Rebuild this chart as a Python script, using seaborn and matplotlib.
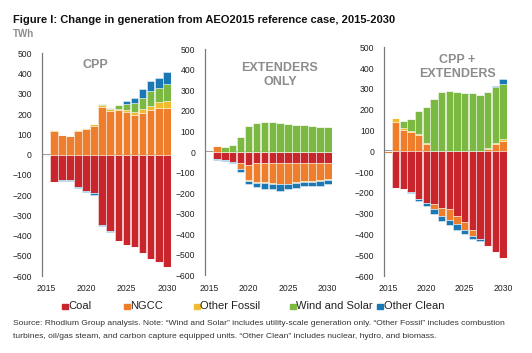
import numpy as np
import pandas as pd
import matplotlib
matplotlib.use('Agg')
import matplotlib.pyplot as plt
import seaborn as sns
from matplotlib.patches import Rectangle

sns.set_style('white')
plt.rcParams['font.family'] = ['Liberation Sans', 'DejaVu Sans']

# data: change in generation vs AEO2015 reference (TWh), 2015-2030
years = list(range(2015, 2031))
sources = ['Coal', 'NGCC', 'Other Fossil', 'Wind and Solar', 'Other Clean']
colors = ['#c9252c', '#ee7d2c', '#f1bb2f', '#7bb943', '#1a78b4']

# CPP
cpp_coal = [0, -138, -128, -128, -161, -178, -189, -349, -379, -427, -445, -455, -484, -514, -529, -557]
cpp_ngcc = [-5, 115, 94, 91, 117, 127, 142, 237, 216, 222, 211, 196, 207, 221, 232, 229]
cpp_fossil = [0, 7, 3, 0, 3, 3, 7, 10, 7, 5, 8, 13, 16, 20, 25, 35]
cpp_wind = [0, 0, 0, 0, 0, 0, 0, 3, 8, 20, 33, 46, 55, 72, 72, 86]
cpp_clean = [0, 0, -3, -3, -3, -5, -12, -5, -6, 0, 12, 26, 46, 51, 49, 56]

# Extenders only
ext_coal = [0, -32, -37, -47, -53, -62, -54, -54, -52, -52, -52, -52, -52, -52, -52, -52]
ext_ngcc = [0, 31, 0, 0, -29, -73, -94, -94, -98, -102, -102, -94, -89, -89, -86, -78]
ext_fossil = [0, 0, 0, 0, 0, -5, -4, -4, -4, -4, -4, -4, -4, -4, -4, -4]
ext_wind = [0, 0, 24, 34, 71, 126, 143, 144, 144, 143, 138, 133, 130, 127, 123, 120]
ext_clean = [0, -5, -5, -6, -13, -16, -20, -26, -28, -30, -20, -25, -22, -22, -22, -24]

# CPP + extenders
both_coal = [0, -175, -180, -194, -232, -247, -256, -271, -279, -313, -340, -377, -422, -454, -484, -515]
both_ngcc = [-6, 140, 104, 91, 79, 34, -22, -40, -53, -38, -40, -32, 0, 13, 37, 50]
both_fossil = [0, 21, 8, 6, 6, 6, 0, 0, 0, 0, 0, 0, 0, 5, 5, 8]
both_wind = [0, 0, 34, 59, 107, 171, 250, 285, 288, 284, 280, 279, 271, 266, 267, 265]
both_clean = [0, 0, -3, -6, -8, -14, -22, -26, -21, -29, -16, -11, -9, 0, 6, 24]

panels = [
    ('CPP', [cpp_coal, cpp_ngcc, cpp_fossil, cpp_wind, cpp_clean]),
    ('EXTENDERS\nONLY', [ext_coal, ext_ngcc, ext_fossil, ext_wind, ext_clean]),
    ('CPP +\nEXTENDERS', [both_coal, both_ngcc, both_fossil, both_wind, both_clean]),
]

W, H = 532, 353
fig = plt.figure(figsize=(W / 100, H / 100), dpi=100)

# axes rectangles in pixels: left, right, top(500), bottom(-600)
rects = [(41.7, 170.8, 53.3, 276), (205, 331.7, 49.3, 275.3), (384.2, 506.8, 47.3, 276)]
title_pos = [(95, 65), (280, 75), (457, 67)]

for (name, series), (l, r, t, b), (tx, ty) in zip(panels, rects, title_pos):
    ax = fig.add_axes([l / W, (H - b) / H, (r - l) / W, (b - t) / H])
    df = pd.DataFrame(dict(zip(sources, series)), index=years)
    pos_base = np.zeros(len(years))
    neg_base = np.zeros(len(years))
    ax.axhline(0, color='#8a8a8a', lw=1.2, zorder=1)
    for src, col in zip(sources, colors):
        v = df[src].values.astype(float)
        pos = np.where(v > 0, v, 0)
        neg = np.where(v < 0, v, 0)
        ax.bar(years, pos, bottom=pos_base, width=0.95, color=col,
               edgecolor=(1, 1, 1, 0.45), linewidth=0.7, zorder=2)
        ax.bar(years, neg, bottom=neg_base, width=0.95, color=col,
               edgecolor=(1, 1, 1, 0.45), linewidth=0.7, zorder=2)
        pos_base += pos
        neg_base += neg
    ax.set_xlim(2014.5, 2030.5)
    ax.set_ylim(-600, 500)
    ax.set_yticks(range(-600, 501, 100))
    ax.set_xticks([2015, 2020, 2025, 2030])
    ax.tick_params(axis='both', length=0, labelsize=6.2, colors='#222222')
    ax.tick_params(axis='y', pad=7)
    ax.tick_params(axis='x', pad=6)
    for s in ['top', 'right', 'bottom']:
        ax.spines[s].set_visible(False)
    ax.spines['left'].set_color('#7a7a7a')
    ax.spines['left'].set_linewidth(0.9)
    ax.patch.set_alpha(0)
    fig.text(tx / W, 1 - ty / H, name, ha='center', va='center', fontsize=9,
             fontweight='bold', color='#8c8c8c', linespacing=1.2)

fig.text(13 / W, 1 - 20 / H, 'Figure I: Change in generation from AEO2015 reference case, 2015-2030',
         fontsize=8, fontweight='bold', va='center', color='#111111')
fig.text(13 / W, 1 - 34 / H, 'TWh', fontsize=7, fontweight='bold', va='center', color='#8c8c8c')

# legend placed by hand
leg_x = [62, 124, 194, 290, 377]
for lx, src, col in zip(leg_x, sources, colors):
    fig.patches.append(Rectangle((lx / W, 1 - 309 / H), 5.5 / W, 5.5 / H,
                                 transform=fig.transFigure, color=col))
    fig.text((lx + 6.5) / W, 1 - 306 / H, src, fontsize=8, va='center', color='#222222')

fig.text(13 / W, 1 - 323.5 / H,
         'Source: Rhodium Group analysis. Note: \u201cWind and Solar\u201d includes utility-scale generation only. '
         '\u201cOther Fossil\u201d includes combustion',
         fontsize=6.1, va='center', color='#333333')
fig.text(13 / W, 1 - 336.5 / H,
         'turbines, oil/gas steam, and carbon capture equipped units. \u201cOther Clean\u201d includes nuclear, '
         'hydro, and biomass.',
         fontsize=6.1, va='center', color='#333333')

fig.savefig('out.png', dpi=100)
